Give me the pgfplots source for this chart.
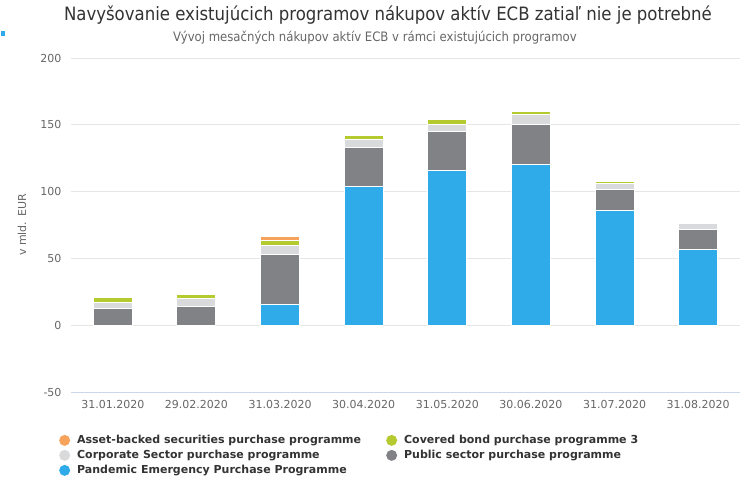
\documentclass[border=0pt]{standalone}
\usepackage{fontspec}
\setmainfont{DejaVu Sans}
\newfontfamily\condfont{DejaVu Sans Condensed}
\usepackage{pgfplots}
\pgfplotsset{compat=1.18}
\definecolor{cabs}{HTML}{F7A35C}
\definecolor{ccb}{HTML}{B5CA2E}
\definecolor{ccs}{HTML}{D9DADB}
\definecolor{cps}{HTML}{808285}
\definecolor{cpe}{HTML}{2FABE9}
\definecolor{ctitle}{HTML}{333333}
\definecolor{ctick}{HTML}{666666}
\definecolor{cgrid}{HTML}{E6E6E6}
\definecolor{caxis}{HTML}{CCD6EB}
\begin{document}
\begin{tikzpicture}
\useasboundingbox (0pt,0pt) rectangle (744pt,-500pt);
\fill[cpe] (1pt,-31pt) rectangle (5pt,-36pt);
\node[font=\condfont\fontsize{18.4}{20}\selectfont, text=ctitle] at (388pt,-15pt) {Navyšovanie existujúcich programov nákupov aktív ECB zatiaľ nie je potrebné};
\node[font=\condfont\fontsize{13}{15}\selectfont, text=ctick] at (375pt,-38pt) {Vývoj mesačných nákupov aktív ECB v rámci existujúcich programov};
\begin{axis}[
  at={(71pt,-392pt)}, anchor=south west, scale only axis,
  width=669pt, height=334pt,
  ybar stacked, bar width=39pt,
  ymin=-50, ymax=200, ytick={-50,0,50,100,150,200},
  xmin=-0.5, xmax=7.5, xtick={0,...,7},
  xticklabels={31.01.2020,29.02.2020,31.03.2020,30.04.2020,31.05.2020,30.06.2020,31.07.2020,31.08.2020},
  ymajorgrids, grid style={draw=cgrid, line width=1pt},
  axis x line*=bottom, axis y line*=left,
  x axis line style={draw=caxis, line width=1pt, -},
  y axis line style={draw=none},
  major tick length=0pt,
  /pgf/number format/assume math mode=true,
  ticklabel style={font=\fontsize{11}{13}\selectfont, text=ctick},
  yticklabel style={xshift=-6pt},
  xticklabel style={yshift=-5pt},
  ylabel={v mld. EUR},
  every axis y label/.style={at={(axis description cs:-0.0732,0.5)}, rotate=90, anchor=center, font=\fontsize{11}{13}\selectfont, text=ctick},
  reverse legend,
  legend columns=2,
  legend style={at={(axis description cs:-0.0225,-0.1158)}, anchor=north west, draw=none, fill=none,
    font=\bfseries\fontsize{11}{13}\selectfont, text=ctitle,
    nodes={text height=9pt, text depth=2pt, inner sep=2pt},
    /tikz/every even column/.append style={column sep=23pt}},
  legend cell align=left,
  legend image code/.code={\fill[#1, draw=none] (4pt,0pt) circle (5.5pt); \path (14pt,0pt);},
]
\addplot[fill=cpe, draw=white, line width=1pt] coordinates {(0,0) (1,0) (2,15.5) (3,104) (4,116) (5,120.5) (6,85.5) (7,57)};
\addplot[fill=cps, draw=white, line width=1pt] coordinates {(0,12.5) (1,14) (2,37.5) (3,29) (4,29) (5,29.7) (6,16.2) (7,15)};
\addplot[fill=ccs, draw=white, line width=1pt] coordinates {(0,4.5) (1,6) (2,6.4) (3,6) (4,5.2) (5,7.5) (6,4.5) (7,4)};
\addplot[fill=ccb, draw=white, line width=1pt] coordinates {(0,3.5) (1,2.7) (2,3.8) (3,2.7) (4,3.5) (5,2) (6,1.5) (7,0)};
\addplot[fill=cabs, draw=white, line width=1pt] coordinates {(0,0) (1,0) (2,3) (3,0) (4,0) (5,0) (6,0) (7,0)};
\legend{Pandemic Emergency Purchase Programme, Public sector purchase programme, Corporate Sector purchase programme, Covered bond purchase programme 3, Asset-backed securities purchase programme}
\end{axis}
\end{tikzpicture}
\end{document}
